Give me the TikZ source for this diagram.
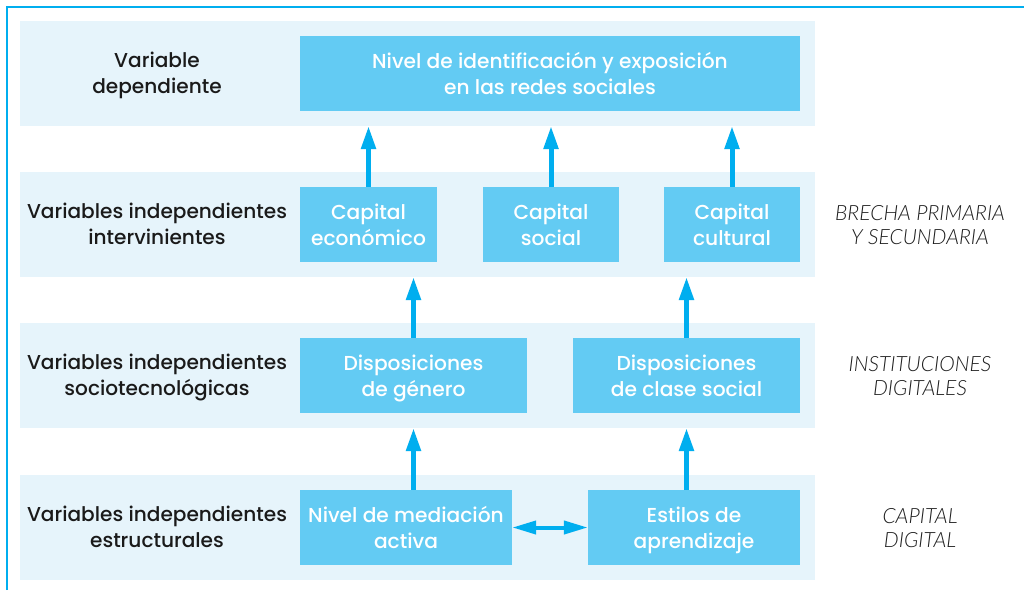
\documentclass[tikz,border=0pt]{standalone}
\usepackage{fontspec}
\setmainfont{Poppins}[UprightFont=* Medium]
\newfontfamily\sidefont{Lato}[ItalicFont=* Light Italic]
\usetikzlibrary{arrows.meta}
\definecolor{bandc}{HTML}{E6F4FB}
\definecolor{boxc}{HTML}{63CBF3}
\definecolor{arrc}{HTML}{00AEEF}
\definecolor{txtc}{HTML}{1A1A1A}
\definecolor{sidec}{HTML}{1E1E1E}
\newcommand\twol[2]{\rule{0pt}{23.2pt}#1\\\strut #2}
\begin{document}
\begin{tikzpicture}[x=1pt,y=-1pt,
  band/.style={fill=bandc,draw=none},
  vbox/.style={fill=boxc,draw=none,text=white,font=\fontsize{20.2}{26}\selectfont,align=center,inner sep=0pt},
  lab/.style={text=txtc,font=\fontsize{20.1}{26}\selectfont,align=center,inner sep=0pt},
  side/.style={text=sidec,font=\sidefont\itshape\fontsize{21}{24}\selectfont,align=center,inner sep=0pt},
  uparr/.style={draw=arrc,line width=5pt,-{Triangle[length=23pt,width=14pt]}},
  dblarr/.style={draw=arrc,line width=4pt,{Triangle[length=24pt,width=13pt]}-{Triangle[length=24pt,width=13pt]}}]
\useasboundingbox (0,0) rectangle (1024,590);
\fill[white] (0,0) rectangle (1024,590);
% frame
\draw[arrc,line width=2.2pt] (7,590) -- (7,7) -- (1024,7);
% bands
\fill[band] (20,21) rectangle (815,126);
\fill[band] (20,172) rectangle (815,277);
\fill[band] (20,323) rectangle (815,428);
\fill[band] (20,475) rectangle (815,580);
\coordinate (b1) at (20,126);
\coordinate (b2) at (20,277);
\coordinate (b3) at (20,428);
% left labels
\node[lab] (l1) at (157,73) {\twol{Variable}{dependiente}};
\node[lab] (l2) at (157,224) {\twol{Variables independientes}{intervinientes}};
\node[lab] (l3) at (157,375) {\twol{Variables independientes}{sociotecnológicas}};
\node[lab] (l4) at (157,527) {\twol{Variables independientes}{estructurales}};
% side labels
\node[side] (s2) at (920,224) {\twol{BRECHA PRIMARIA}{Y SECUNDARIA}};
\node[side] (s3) at (920,375) {\twol{INSTITUCIONES}{DIGITALES}};
\node[side] (s4) at (920,527) {\twol{CAPITAL}{DIGITAL}};
% boxes
\node[vbox,minimum width=500pt,minimum height=75pt] (top) at (550,73.5) {\twol{Nivel de identificación y exposición}{en las redes sociales}};
\node[vbox,minimum width=137pt,minimum height=75pt] (ce) at (368.5,224.5) {\twol{Capital}{económico}};
\node[vbox,minimum width=136pt,minimum height=75pt] (cs) at (551,224.5) {\twol{Capital}{social}};
\node[vbox,minimum width=136pt,minimum height=75pt] (cc) at (732,224.5) {\twol{Capital}{cultural}};
\node[vbox,minimum width=227pt,minimum height=75pt] (dg) at (413.5,375.5) {\twol{Disposiciones}{de género}};
\node[vbox,minimum width=227pt,minimum height=75pt] (dc) at (686.5,375.5) {\twol{Disposiciones}{de clase social}};
\node[vbox,minimum width=212pt,minimum height=75pt] (nm) at (406,527.5) {\twol{Nivel de mediación}{activa}};
\node[vbox,minimum width=212pt,minimum height=75pt] (ea) at (694,527.5) {\twol{Estilos de}{aprendizaje}};
% arrows
\draw[uparr] (ce.north) -- (ce.north |- b1);
\draw[uparr] (cs.north) -- (cs.north |- b1);
\draw[uparr] (cc.north) -- (cc.north |- b1);
\draw[uparr] (dg.north) -- (dg.north |- b2);
\draw[uparr] (dc.north) -- (dc.north |- b2);
\draw[uparr] (dg.north |- nm.north) -- (dg.north |- b3);
\draw[uparr] (dc.north |- ea.north) -- (dc.north |- b3);
\draw[dblarr] (nm.east) -- (ea.west);
\end{tikzpicture}
\end{document}
